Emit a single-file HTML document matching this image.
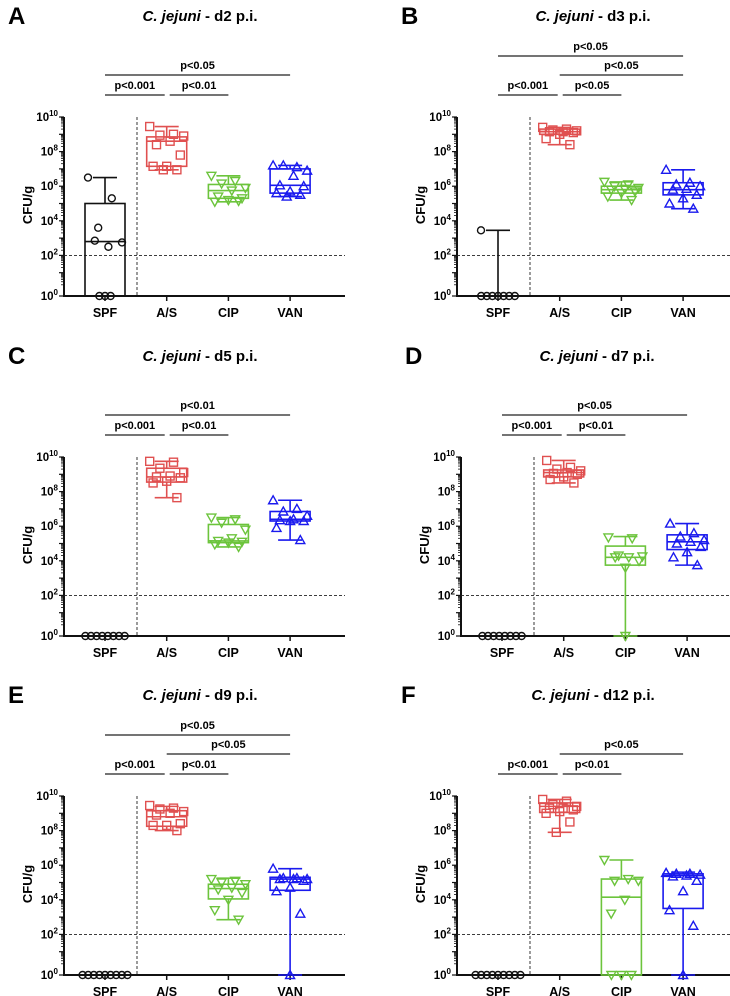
<!DOCTYPE html>
<html><head><meta charset="utf-8"><style>
html,body{margin:0;padding:0;background:#fff;}
svg{display:block;font-family:"Liberation Sans",Arial,sans-serif;}
</style></head><body>
<svg id="fig" width="730" height="996" viewBox="0 0 730 996" xmlns="http://www.w3.org/2000/svg"></svg>
<script>
const groups = ["SPF","A/S","CIP","VAN"];
const panelLetters = ["A","B","C","D","E","F"];
const panelDays = ["d2","d3","d5","d7","d9","d12"];
// box stats in log10 CFU/g : [min,q1,median,q3,max]; 0 = below detection
const boxA = [[0,0,2.8,5.0,6.5],[6.95,7.15,8.6,8.85,9.45],[5.1,5.3,5.75,6.1,6.6],[5.4,5.6,6.05,7.0,7.2]];
const boxB = [[0,0,0,0,3.45],[8.4,9.0,9.15,9.3,9.4],[5.2,5.6,5.8,6.0,6.25],[4.7,5.5,5.8,6.2,6.95]];
const boxC = [[0,0,0,0,0],[7.65,8.55,8.85,9.35,9.75],[4.8,5.05,5.15,6.1,6.5],[5.2,6.3,6.4,6.85,7.5]];
const boxD = [[0,0,0,0,0],[8.5,8.85,9.1,9.25,9.8],[0,3.75,4.2,4.85,5.4],[3.75,4.65,5.1,5.5,6.15]];
const boxE = [[0,0,0,0,0],[8.0,8.25,8.8,9.15,9.4],[2.85,4.05,4.65,4.9,5.25],[0,4.55,5.2,5.3,5.8]];
const boxF = [[0,0,0,0,0],[7.9,9.05,9.4,9.6,9.8],[0,0,4.15,5.2,6.3],[0,3.5,5.4,5.5,5.6]];
// individual points (log10), 0 = below detection
const ptsA = [[6.5,5.3,3.6,2.75,2.5,2.85,0,0,0],[9.45,9.0,8.95,8.9,8.6,8.4,7.8,7.15,7.15,6.95,6.95],[6.6,6.3,6.15,5.9,5.75,5.4,5.3,5.2,5.1,5.15],[7.2,7.1,7.2,6.9,6.6,6.05,6.0,5.7,5.6,5.5,5.4]];
const ptsB = [[3.45,0,0,0,0,0,0,0],[9.4,9.3,9.25,9.2,9.15,9.15,9.1,9.0,8.75,8.4],[6.25,6.1,6.0,5.9,5.85,5.8,5.7,5.6,5.4,5.2],[6.95,6.2,6.1,6.0,5.85,5.8,5.5,5.3,5.0,4.7]];
const ptsC = [[0,0,0,0,0,0,0,0],[9.75,9.7,9.35,9.1,8.9,8.85,8.8,8.6,8.5,7.65],[6.5,6.4,6.2,5.8,5.3,5.15,5.1,5.05,4.95,4.8],[7.5,7.0,6.85,6.6,6.4,6.35,6.3,6.3,5.9,5.2]];
const ptsD = [[0,0,0,0,0,0,0,0],[9.8,9.4,9.3,9.2,9.1,9.05,9.0,8.85,8.7,8.5],[5.35,5.3,4.3,4.25,4.2,4.2,4.0,3.6,0],[6.15,5.6,5.4,5.2,5.1,5.0,4.8,4.5,4.2,3.75]];
const ptsE = [[0,0,0,0,0,0,0,0,0],[9.45,9.3,9.25,9.1,9.0,8.9,8.4,8.3,8.3,8.0],[5.2,5.1,5.0,4.9,4.7,4.6,4.4,4.0,3.4,2.85],[5.8,5.25,5.25,5.2,5.2,5.2,5.1,4.7,4.5,3.2,0]];
const ptsF = [[0,0,0,0,0,0,0,0,0],[9.8,9.7,9.5,9.4,9.3,9.3,9.2,9.1,9.0,8.5,7.9],[6.3,5.2,5.1,5.1,4.0,3.2,0,0,0],[5.55,5.5,5.5,5.45,5.4,5.35,5.1,4.5,3.4,2.5,0]];
// significance brackets: [fromGroup, toGroup, level(0 top..2 low), label]
const sigA = [[0,3,1,"p<0.05"],[0,1,2,"p<0.001"],[1,2,2,"p<0.01"]];
const sigB = [[0,3,0,"p<0.05"],[1,3,1,"p<0.05"],[0,1,2,"p<0.001"],[1,2,2,"p<0.05"]];
const sigC = [[0,3,1,"p<0.01"],[0,1,2,"p<0.001"],[1,2,2,"p<0.01"]];
const sigD = [[0,3,1,"p<0.05"],[0,1,2,"p<0.001"],[1,2,2,"p<0.01"]];
const sigE = [[0,3,0,"p<0.05"],[1,3,1,"p<0.05"],[0,1,2,"p<0.001"],[1,2,2,"p<0.01"]];
const sigF = [[1,3,1,"p<0.05"],[0,1,2,"p<0.001"],[1,2,2,"p<0.01"]];
const yTicks = [0,2,4,6,8,10];

const boxes=[boxA,boxB,boxC,boxD,boxE,boxF];
const pts=[ptsA,ptsB,ptsC,ptsD,ptsE,ptsF];
const sigs=[sigA,sigB,sigC,sigD,sigE,sigF];
const origins=[[0,0],[393,0],[0,340],[397,340],[0,679],[393,679]];
const colors=["#111","#e05050","#6cc43c","#1a1aee"];
const NS="http://www.w3.org/2000/svg";
const svg=document.getElementById('fig');
function mk(tag,attrs,parent){const e=document.createElementNS(NS,tag);for(const k in attrs)e.setAttribute(k,attrs[k]);(parent||svg).appendChild(e);return e;}
function yS(v){return v<=0?296:290-v*17.3;}
function xS(g){return 105+g*61.7;}
const levelY=[56,75,95];

for(let p=0;p<6;p++){
  const [ox,oy]=origins[p];
  const g=mk('g',{transform:`translate(${ox},${oy})`});
  
  
  let t=mk('text',{x:8,y:24,'font-size':24,'font-weight':'bold'},g);t.textContent=panelLetters[p];
  
  t=mk('text',{x:200,y:21,'font-size':15,'font-weight':'bold','text-anchor':'middle'},g);
  
  const ti=mk('tspan',{'font-style':'italic'},t);ti.textContent='C. jejuni';
  const t2=mk('tspan',{},t);t2.textContent=' - '+panelDays[p]+' p.i.';
  sigs[p].forEach(s=>{
    const x1=xS(s[0])-(s[0]===1&&s[2]===2?-3:0),x2=xS(s[1])-(s[2]===2&&s[1]===1?2:0);
    const y=levelY[s[2]];
    const l=mk('line',{x1:x1,x2:x2,y1:y,y2:y,stroke:'#222','stroke-width':1.3},g);
    
    const tx=mk('text',{x:(x1+x2)/2,y:y-6,'font-size':11,'font-weight':'bold','text-anchor':'middle'},g);
    tx.textContent=s[3];
    
  });
  let a=mk('line',{x1:64,x2:64,y1:117,y2:296,stroke:'#111','stroke-width':2},g);
  
  a=mk('line',{x1:63,x2:345,y1:296,y2:296,stroke:'#111','stroke-width':2},g);
  
  for(let d=0;d<10;d++){for(let m=2;m<10;m++){const y=yS(d+Math.log10(m));mk('line',{x1:61,x2:64,y1:y,y2:y,stroke:'#111','stroke-width':0.8},g);}}
  for(let d=0;d<=10;d++){const y=yS(d);mk('line',{x1:59,x2:64,y1:y,y2:y,stroke:'#111','stroke-width':1.2},g);}
  yTicks.forEach(v=>{
    const y=yS(v);
    const tl=mk('text',{x:58,y:y+4,'font-size':11.5,'font-weight':'bold','text-anchor':'end'},g);
    
    const b=mk('tspan',{},tl);b.textContent='10';
    const sp=mk('tspan',{dy:-5,'font-size':8},tl);sp.textContent=String(v);
  });
  const yl=mk('text',{x:0,y:0,'font-size':13,'font-weight':'bold','text-anchor':'middle',transform:'translate(32,205) rotate(-90)'},g);
  yl.textContent='CFU/g';
  mk('line',{x1:137,x2:137,y1:117,y2:296,stroke:'#222','stroke-width':0.9,'stroke-dasharray':'3,2'},g);
  const dl=mk('line',{x1:64,x2:345,y1:yS(2),y2:yS(2),stroke:'#222','stroke-width':0.9,'stroke-dasharray':'3,2'},g);
  
  groups.forEach((gn,i)=>{
    const x=xS(i);
    mk('line',{x1:x,x2:x,y1:296,y2:301,stroke:'#111','stroke-width':1.5},g);
    const xl=mk('text',{x:x,y:317,'font-size':12.5,'font-weight':'bold','text-anchor':'middle'},g);
    xl.textContent=gn;
    const c=colors[i];const bx=boxes[p][i];
    const bg=mk('g',{},g);
    const sw=1.6;
    mk('line',{x1:x,x2:x,y1:yS(bx[4]),y2:yS(bx[3]),stroke:c,'stroke-width':sw},bg);
    mk('line',{x1:x,x2:x,y1:yS(bx[1]),y2:yS(bx[0]),stroke:c,'stroke-width':sw},bg);
    mk('line',{x1:x-12,x2:x+12,y1:yS(bx[4]),y2:yS(bx[4]),stroke:c,'stroke-width':sw},bg);
    mk('line',{x1:x-12,x2:x+12,y1:yS(bx[0]),y2:yS(bx[0]),stroke:c,'stroke-width':sw},bg);
    if(bx[3]>bx[1]||bx[3]>0) mk('rect',{x:x-20,y:yS(bx[3]),width:40,height:Math.max(0,yS(bx[1])-yS(bx[3])),fill:'none',stroke:c,'stroke-width':sw},bg);
    mk('line',{x1:x-20,x2:x+20,y1:yS(bx[2]),y2:yS(bx[2]),stroke:c,'stroke-width':sw},bg);
    const arr=pts[p][i];
    const zeros=arr.filter(v=>v<=0).length;let zi=0;
    arr.forEach((v,k)=>{
      let px;
      if(v<=0){px=x+(zeros>1?(zi-(zeros-1)/2)*(i===0?5.6:10):0);zi++;}
      else{px=x+(((k*7)%11)-5)*3.4;}
      const py=yS(v);let m;
      if(i===0)m=mk('circle',{cx:px,cy:py,r:3.5,fill:'none',stroke:c,'stroke-width':1.4},g);
      else if(i===1)m=mk('rect',{x:px-4,y:py-4,width:8,height:8,fill:'none',stroke:c,'stroke-width':1.4},g);
      else if(i===2)m=mk('polygon',{points:`${px-4.5},${py-3.5} ${px+4.5},${py-3.5} ${px},${py+4.5}`,fill:'none',stroke:c,'stroke-width':1.4},g);
      else m=mk('polygon',{points:`${px-4.5},${py+3.5} ${px+4.5},${py+3.5} ${px},${py-4.5}`,fill:'none',stroke:c,'stroke-width':1.4},g);
      
      
    });
  });
}
</script>
</body></html>
